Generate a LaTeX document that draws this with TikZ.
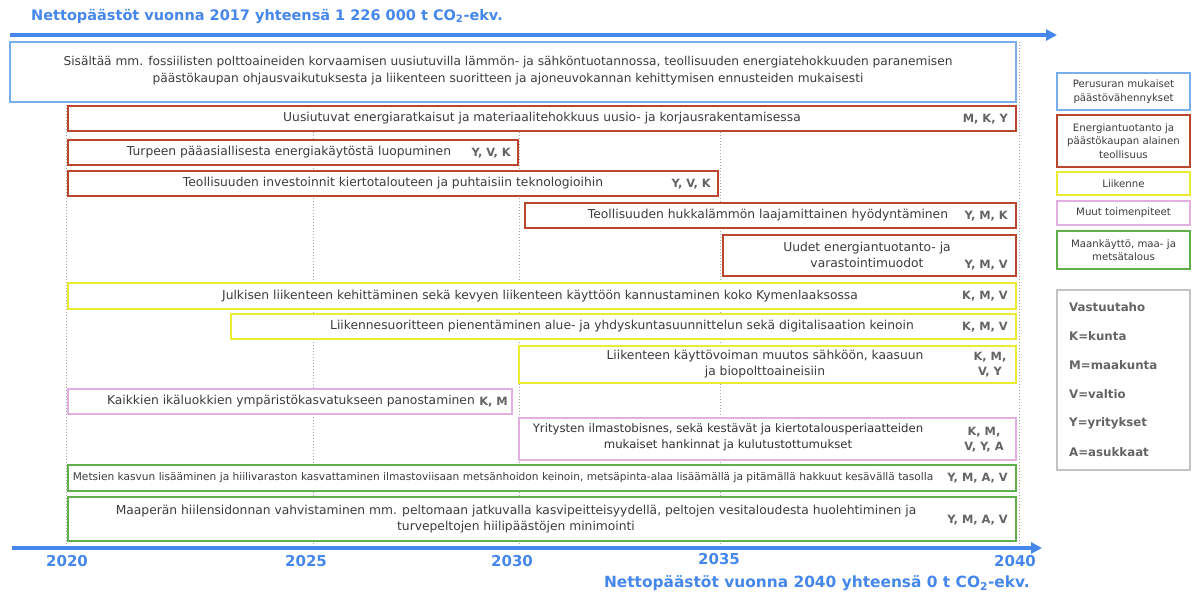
\documentclass[tikz,border=0pt]{standalone}
\usepackage{fontspec}
\setmainfont{DejaVu Sans}
\usetikzlibrary{arrows.meta}
\definecolor{axisblue}{RGB}{70,135,235}
\definecolor{topblue}{RGB}{120,175,235}
\definecolor{boxred}{RGB}{185,70,45}
\definecolor{boxyellow}{RGB}{235,235,50}
\definecolor{boxpink}{RGB}{225,175,225}
\definecolor{boxgreen}{RGB}{95,175,75}
\definecolor{boxgray}{RGB}{195,195,195}
\definecolor{txtgray}{RGB}{60,60,60}
\definecolor{respgray}{RGB}{100,100,100}
\definecolor{gridgray}{RGB}{165,165,165}
\tikzset{
  gridline/.style={draw=gridgray, line width=1pt, dotted},
  axisline/.style={draw=axisblue, line width=3.5pt, -{Triangle[length=11pt,width=11pt]}},
  bluebox/.style={draw=topblue, line width=2pt, fill=white},
  redbox/.style={draw=boxred, line width=2.4pt, fill=white},
  yellowbox/.style={draw=boxyellow, line width=2.2pt, fill=white},
  pinkbox/.style={draw=boxpink, line width=1.8pt, fill=white},
  greenbox/.style={draw=boxgreen, line width=2pt, fill=white},
  graybox/.style={draw=boxgray, line width=1.6pt, fill=white},
  txt/.style={font=\fontsize{12.3}{16}\selectfont, text=txtgray, inner sep=0pt, align=center},
  smalltxt/.style={font=\fontsize{10.6}{14}\selectfont, text=txtgray, inner sep=0pt, align=center},
  resp/.style={font=\fontsize{11.4}{15}\selectfont\bfseries, text=respgray, inner sep=0pt, align=center},
  title/.style={font=\fontsize{14.5}{16}\selectfont\bfseries, text=axisblue, inner sep=0pt},
  year/.style={font=\fontsize{15}{16}\selectfont\bfseries, text=axisblue, inner sep=0pt},
  legtxt/.style={font=\fontsize{10.2}{13.5}\selectfont, text=txtgray, inner sep=0pt, align=center},
  legkey/.style={font=\fontsize{11.8}{13}\selectfont\bfseries, text=respgray, inner sep=0pt, anchor=west},
}
\begin{document}
\begin{tikzpicture}[x=1pt,y=-1pt]
\useasboundingbox (0,0) rectangle (1192,594);
% grid
\draw[gridline] (66,102) -- (66,545);
\draw[gridline] (313,102) -- (313,545);
\draw[gridline] (519,102) -- (519,545);
\draw[gridline] (720,102) -- (720,545);
\draw[gridline] (1019,42) -- (1019,545);
% titles and axes
\node[title, anchor=west] (ttop) at (31,16) {Nettopäästöt vuonna 2017 yhteensä 1 226 000 t CO\textsubscript{2}-ekv.};
\coordinate (atopL) at (10,35);
\coordinate (atopR) at (1057,35);
\draw[axisline] (atopL) -- (atopR);
\coordinate (abotL) at (12,548);
\coordinate (abotR) at (1042,548);
\draw[axisline] (abotL) -- (abotR);
\node[year] (y2020) at (67,561) {2020};
\node[year] (y2025) at (306,561) {2025};
\node[year] (y2030) at (512,561) {2030};
\node[year] (y2035) at (719,559) {2035};
\node[year] (y2040) at (1015,561) {2040};
\node[title, anchor=east, font=\fontsize{15.4}{16}\selectfont\bfseries] (tbot) at (1030,583) {Nettopäästöt vuonna 2040 yhteensä 0 t CO\textsubscript{2}-ekv.};
% top box
\draw[bluebox] (10,42) rectangle (1016,102);
\node[txt, font=\fontsize{12.2}{17}\selectfont] (t0) at (508,71) {Sisältää mm. fossiilisten polttoaineiden korvaamisen uusiutuvilla lämmön- ja sähköntuotannossa, teollisuuden energiatehokkuuden paranemisen\\päästökaupan ohjausvaikutuksesta ja liikenteen suoritteen ja ajoneuvokannan kehittymisen ennusteiden mukaisesti};
% red rows
\draw[redbox] (68,106) rectangle (1016,131);
\node[txt] (t1) at (542,118.5) {Uusiutuvat energiaratkaisut ja materiaalitehokkuus uusio- ja korjausrakentamisessa};
\node[resp, anchor=east] (r1) at (1008,119) {M, K, Y};
\draw[redbox] (68,140) rectangle (518,165);
\node[txt] (t2) at (289,152.5) {Turpeen pääasiallisesta energiakäytöstä luopuminen};
\node[resp, anchor=east] (r2) at (511,153) {Y, V, K};
\draw[redbox] (68,171) rectangle (718,196);
\node[txt] (t3) at (393,183.5) {Teollisuuden investoinnit kiertotalouteen ja puhtaisiin teknologioihin};
\node[resp, anchor=east] (r3) at (711,184) {Y, V, K};
\draw[redbox] (525,203) rectangle (1016,228);
\node[txt] (t4) at (768,215.5) {Teollisuuden hukkalämmön laajamittainen hyödyntäminen};
\node[resp, anchor=east] (r4) at (1008,216) {Y, M, K};
\draw[redbox] (723,235) rectangle (1016,276);
\node[txt] (t5) at (867,255) {Uudet energiantuotanto- ja\\varastointimuodot};
\node[resp, anchor=east] (r5) at (1008,265) {Y, M, V};
% yellow rows
\draw[yellowbox] (68,283) rectangle (1016,309);
\node[txt] (t6) at (540,296) {Julkisen liikenteen kehittäminen sekä kevyen liikenteen käyttöön kannustaminen koko Kymenlaaksossa};
\node[resp, anchor=east] (r6) at (1008,296.5) {K, M, V};
\draw[yellowbox] (231,314) rectangle (1016,339);
\node[txt] (t7) at (622,326.5) {Liikennesuoritteen pienentäminen alue- ja yhdyskuntasuunnittelun sekä digitalisaation keinoin};
\node[resp, anchor=east] (r7) at (1008,327) {K, M, V};
\draw[yellowbox] (519,346) rectangle (1016,383);
\node[txt] (t8) at (765,364.5) {Liikenteen käyttövoiman muutos sähköön, kaasuun\\ja biopolttoaineisiin};
\node[resp] (r8) at (990,365) {K, M,\\V, Y};
% pink rows
\draw[pinkbox] (68,389) rectangle (512,414);
\node[txt, anchor=east] (t9) at (475,401.5) {Kaikkien ikäluokkien ympäristökasvatukseen panostaminen};
\node[resp, anchor=east] (r9) at (508,402) {K, M};
\draw[pinkbox] (519,418) rectangle (1016,460);
\node[txt, text=black!80, font=\fontsize{11.7}{16}\selectfont] (t10) at (728,437) {Yritysten ilmastobisnes, sekä kestävät ja kiertotalousperiaatteiden\\mukaiset hankinnat ja kulutustottumukset};
\node[resp] (r10) at (984,440) {K, M,\\V, Y, A};
% green rows
\draw[greenbox] (68,465) rectangle (1016,491);
\node[smalltxt] (t11) at (503,478) {Metsien kasvun lisääminen ja hiilivaraston kasvattaminen ilmastoviisaan metsänhoidon keinoin, metsäpinta-alaa lisäämällä ja pitämällä hakkuut kesävällä tasolla};
\node[resp, anchor=east] (r11) at (1008,478.5) {Y, M, A, V};
\draw[greenbox] (68,497) rectangle (1016,541);
\node[txt] (t12) at (516,519) {Maaperän hiilensidonnan vahvistaminen mm. peltomaan jatkuvalla kasvipeitteisyydellä, peltojen vesitaloudesta huolehtiminen ja\\turvepeltojen hiilipäästöjen minimointi};
\node[resp, anchor=east] (r12) at (1008,520) {Y, M, A, V};
% legend
\draw[bluebox] (1057,73) rectangle (1190,110);
\node[legtxt] (l1) at (1123.5,91.5) {Perusuran mukaiset\\päästövähennykset};
\draw[redbox] (1057,115) rectangle (1190,167);
\node[legtxt] (l2) at (1123.5,141) {Energiantuotanto ja\\päästökaupan alainen\\teollisuus};
\draw[yellowbox] (1057,172) rectangle (1190,195);
\node[legtxt] (l3) at (1123.5,183.5) {Liikenne};
\draw[pinkbox] (1057,201) rectangle (1190,225);
\node[legtxt] (l4) at (1123.5,213) {Muut toimenpiteet};
\draw[greenbox] (1057,231) rectangle (1190,269);
\node[legtxt] (l5) at (1123.5,250) {Maankäyttö, maa- ja\\metsätalous};
\draw[graybox] (1057,290) rectangle (1190,470);
\node[legkey] (k0) at (1069,307) {Vastuutaho};
\node[legkey] (k1) at (1069,336) {K=kunta};
\node[legkey] (k2) at (1069,365) {M=maakunta};
\node[legkey] (k3) at (1069,394) {V=valtio};
\node[legkey] (k4) at (1069,423) {Y=yritykset};
\node[legkey] (k5) at (1069,452) {A=asukkaat};
\end{tikzpicture}
\end{document}
